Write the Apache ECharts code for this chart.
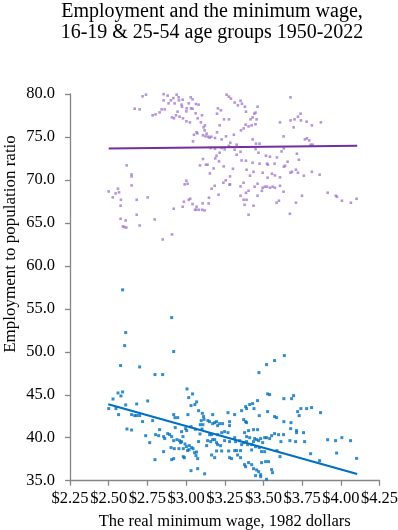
<!DOCTYPE html>
<html>
<head>
<meta charset="utf-8">
<script src="https://cdn.jsdelivr.net/npm/echarts@6/dist/echarts.min.js"></script>
<style>
html,body{margin:0;padding:0;background:#fff;}
#chart{width:398px;height:530px;}
</style>
</head>
<body>
<div id="chart"></div>
<script>
// x ticks (real minimum wage, 1982 dollars)
const xTicks = [2.25, 2.50, 2.75, 3.00, 3.25, 3.50, 3.75, 4.00, 4.25];
const yTicks = [35, 40, 45, 50, 55, 60, 65, 70, 75, 80];

// 25-54 age group: [real minimum wage, employment-to-population ratio]
const primeAgePoints = [
[2.719,79.73],[2.741,79.92],[2.855,79.98],[2.881,79.81],[2.939,79.92],[2.918,79.53],[2.952,79.61],[2.902,79.26],[2.855,79.26],[2.954,79.26],[2.978,79.34],[3.030,79.61],[3.042,79.38],[3.017,78.91],[2.971,78.76],[2.974,78.52],[2.887,78.91],[2.926,78.91],[2.668,78.29],[2.700,78.21],[2.862,78.21],[2.842,78.21],[3.004,78.33],[3.032,78.33],[3.042,78.29],[3.064,78.84],[3.081,78.76],[2.829,77.86],[2.803,77.63],[2.784,77.52],[2.945,77.94],[3.002,77.98],[3.062,77.75],[3.103,77.52],[2.935,77.52],[2.909,77.28],[2.922,77.17],[2.958,77.36],[2.980,77.17],[3.002,76.82],[3.025,76.70],[3.075,77.17],[3.096,76.70],[3.122,76.35],[3.113,76.12],[3.206,78.33],[3.225,78.10],[3.200,77.71],[3.262,79.92],[3.277,79.69],[3.245,77.05],[3.277,77.05],[3.217,76.35],[3.120,75.77],[3.068,75.54],[3.073,75.42],[3.133,75.38],[3.051,75.26],[3.109,75.19],[3.126,75.07],[3.144,75.03],[3.163,75.03],[3.152,74.91],[3.187,74.88],[3.230,74.72],[3.200,75.54],[3.258,75.07],[3.045,74.49],[3.277,73.98],[3.159,73.71],[3.187,73.63],[3.249,73.56],[3.230,73.71],[3.217,73.17],[3.197,72.82],[3.189,72.51],[3.213,72.16],[3.109,72.43],[3.129,71.77],[3.139,71.77],[3.090,71.69],[3.243,71.58],[3.178,71.34],[3.154,70.76],[2.616,71.69],[2.648,70.64],[2.648,70.41],[3.002,69.91],[3.010,69.56],[2.991,69.48],[3.185,69.32],[3.165,68.98],[3.241,69.67],[3.284,70.41],[3.256,69.95],[3.281,69.44],[3.210,68.28],[2.500,68.66],[2.526,67.97],[2.545,68.43],[2.560,68.98],[2.567,68.55],[2.579,67.69],[2.577,67.00],[2.681,67.69],[2.752,67.97],[2.648,69.36],[3.027,67.81],[3.017,67.69],[2.986,67.46],[2.978,66.88],[2.920,66.65],[3.042,67.19],[3.068,66.88],[3.058,66.53],[3.066,66.53],[3.083,66.53],[3.105,66.53],[3.120,66.45],[3.107,67.27],[3.146,67.27],[3.148,67.93],[2.681,65.95],[2.577,65.48],[2.610,65.29],[2.592,64.59],[2.601,64.51],[2.614,64.47],[2.700,64.70],[2.797,65.40],[2.909,63.66],[2.849,63.07],
[3.290,79.46],[3.314,79.00],[3.335,78.68],[3.352,79.22],[3.361,78.87],[3.380,78.52],[3.387,77.94],[3.462,78.52],[3.675,79.61],[3.449,77.83],[3.441,77.71],[3.430,77.28],[3.417,77.05],[3.456,77.05],[3.404,76.23],[3.385,76.43],[3.372,76.00],[3.355,75.77],[3.424,76.35],[3.449,76.47],[3.675,76.93],[3.701,77.05],[3.723,77.36],[3.740,77.71],[3.742,76.93],[3.779,76.78],[3.813,76.35],[3.871,76.70],[3.607,76.70],[3.695,76.12],[3.309,75.26],[3.430,74.72],[3.630,75.07],[3.768,74.72],[3.781,74.84],[3.796,74.60],[3.805,74.10],[3.818,74.10],[3.286,74.33],[3.327,74.10],[3.452,74.22],[3.475,74.22],[3.314,73.52],[3.352,73.28],[3.327,72.93],[3.449,73.59],[3.468,73.17],[3.516,72.82],[3.542,72.70],[3.587,72.62],[3.617,73.32],[3.632,73.67],[3.716,73.05],[3.729,72.35],[3.359,72.27],[3.387,72.24],[3.430,72.00],[3.475,71.89],[3.523,71.89],[3.529,71.77],[3.572,71.89],[3.632,71.54],[3.639,71.65],[3.656,72.12],[3.303,71.30],[3.391,71.19],[3.436,70.95],[3.495,70.84],[3.555,70.72],[3.574,70.53],[3.607,70.30],[3.413,70.49],[3.527,70.26],[3.675,70.84],[3.684,70.95],[3.710,71.19],[3.723,70.84],[3.761,70.49],[3.813,70.95],[3.863,70.61],[3.284,69.48],[3.372,69.67],[3.462,69.56],[3.443,69.21],[3.404,68.74],[3.387,68.51],[3.352,69.25],[3.495,69.09],[3.510,69.21],[3.523,69.21],[3.542,69.09],[3.559,69.21],[3.574,69.09],[3.607,69.32],[3.490,68.74],[3.630,68.63],[3.352,68.16],[3.372,67.69],[3.391,67.69],[3.462,68.16],[3.378,67.11],[3.436,67.00],[3.404,65.95],[3.585,67.35],[3.600,67.58],[3.671,66.06],[3.710,67.35],[3.749,68.16],[3.915,68.51],[3.968,68.16],[3.975,68.04],[4.007,67.58],[4.065,67.35],[4.102,67.81]
];

// 16-19 age group
const teenPoints = [
[2.590,57.21],[2.907,53.98],[2.610,52.24],[2.603,50.72],[2.920,50.03],[2.577,48.40],[2.700,48.24],[2.799,47.35],[2.849,47.35],
[3.635,49.56],[3.572,48.98],[3.520,48.51],[3.471,47.58],[3.811,43.51],[3.869,42.92],[3.915,39.77],[3.966,39.66],[4.007,40.01],[4.063,39.66],[3.973,38.22],[3.863,37.33],[4.102,37.60],[3.805,38.14],
[2.528,44.51],[2.560,45.21],[2.590,45.33],[2.579,44.86],[2.500,43.39],[2.547,43.39],[2.564,42.69],[2.610,43.82],[2.681,43.93],[2.752,44.28],[2.648,42.69],[2.668,42.58],[2.681,42.58],[2.700,42.58],[2.719,41.88],[2.784,41.99],[2.618,41.02],[2.648,40.90],[2.739,40.24],[2.765,39.43],[2.803,40.36],[2.823,40.24],[2.829,40.94],[2.855,40.13],[2.862,39.90],[2.881,40.48],[2.894,40.36],[2.907,40.13],[2.920,42.69],[2.928,42.34],[2.946,42.34],[2.920,39.66],[2.941,39.78],[2.958,39.66],[2.965,39.43],[2.930,41.18],[2.971,40.71],[2.980,40.13],[2.997,41.06],[3.004,40.83],[2.971,39.55],[2.993,39.27],[2.982,38.73],[2.954,38.73],[3.002,38.96],[3.021,39.08],[3.036,38.85],[3.045,38.73],[3.019,38.61],[3.010,38.50],[2.982,37.80],[2.989,37.68],[2.907,37.45],[2.920,37.57],[2.924,38.73],[2.903,38.85],[2.855,38.38],[2.799,37.45],[3.006,45.68],[3.042,45.10],[3.017,44.67],[3.032,43.74],[3.057,43.86],[3.068,44.17],[3.012,42.69],[3.105,42.84],[3.113,42.46],[3.098,41.99],[3.081,43.15],[3.116,42.14],[3.092,41.52],[3.032,41.29],[3.060,40.98],[3.090,40.44],[3.081,39.55],[3.068,38.34],[3.055,38.26],[3.064,37.92],[3.075,37.57],[3.032,36.17],[3.075,36.40],[3.103,41.02],[3.109,41.52],[3.120,35.80],
[3.141,41.99],[3.152,41.87],[3.172,42.69],[3.172,41.64],[3.197,41.87],[3.217,41.64],[3.185,41.76],[3.204,41.41],[3.236,41.64],[3.281,41.87],[3.281,41.41],[3.314,42.69],[3.271,42.92],[3.359,43.15],[3.385,43.62],[3.391,43.39],[3.411,43.86],[3.430,43.97],[3.462,44.32],[3.439,43.39],[3.527,45.10],[3.540,45.02],[3.632,44.55],[3.695,44.90],[3.682,44.55],[3.742,43.39],[3.779,43.39],[3.721,43.04],[3.731,42.57],[3.473,42.57],[3.527,43.04],[3.572,42.46],[3.585,42.34],[3.632,41.87],[3.678,41.76],[3.676,41.06],[3.714,40.83],[3.714,40.59],[3.759,40.59],[3.372,42.11],[3.385,41.87],[3.391,41.76],[3.404,40.83],[3.436,40.94],[3.462,40.94],[3.378,40.59],[3.391,40.13],[3.411,40.01],[3.346,39.66],[3.314,40.01],[3.320,39.55],[3.281,39.55],[3.249,39.66],[3.230,40.59],[3.249,40.71],[3.271,40.59],[3.204,40.36],[3.185,39.78],[3.165,40.36],[3.152,40.36],[3.139,39.66],[3.133,39.08],[3.159,39.55],[3.172,39.78],[3.197,39.43],[3.204,39.20],[3.223,39.08],[3.197,38.46],[3.230,38.46],[3.165,37.99],[3.185,37.68],[3.281,37.68],[3.294,37.57],[3.275,38.46],[3.314,38.50],[3.327,38.50],[3.333,37.99],[3.352,38.50],[3.352,37.68],[3.359,39.20],[3.372,39.43],[3.391,39.55],[3.398,39.20],[3.424,39.20],[3.436,39.55],[3.443,39.90],[3.456,39.78],[3.469,39.66],[3.482,39.90],[3.495,39.43],[3.508,40.01],[3.520,40.01],[3.540,39.90],[3.553,40.24],[3.572,40.48],[3.598,40.36],[3.613,39.55],[3.630,40.36],[3.671,39.66],[3.708,39.55],[3.766,39.55],[3.424,38.58],[3.449,38.96],[3.473,38.85],[3.488,38.38],[3.508,38.38],[3.587,38.50],[3.607,37.80],[3.378,36.87],[3.385,36.63],[3.404,37.10],[3.424,36.87],[3.436,36.40],[3.456,36.25],[3.469,36.05],[3.449,35.59],[3.482,35.70],[3.482,35.47],[3.520,35.16],[3.488,37.10],[3.514,37.22],[3.533,37.22],[3.553,36.29],[3.559,35.94]
];

// Linear trend line endpoints
const primeAgeTrend = [[2.500, 73.67], [4.106, 73.98]];
const teenTrend = [[2.497, 43.90], [4.106, 35.78]];

const titleLines = ['Employment and the minimum wage,', '16-19 & 25-54 age groups 1950-2022'];
const xName = 'The real minimum wage, 1982 dollars';
const yName = 'Employment to population ratio';

const FONT = 'Liberation Serif';
const labelRich = {t: {fontFamily: FONT, fontSize: 16.5, color: '#000'}};
const chart = echarts.init(document.getElementById('chart'), null, {renderer: 'canvas'});
chart.setOption({
  animation: false,
  backgroundColor: '#fff',
  textStyle: {fontFamily: FONT},
  title: {
    text: titleLines.join('\n'),
    left: 212, top: 1, padding: 0, textAlign: 'center',
    textStyle: {fontFamily: FONT, fontSize: 20, fontWeight: 'normal', color: '#000', lineHeight: 21}
  },
  grid: {left: 70, right: 18.5, top: 94, bottom: 49.3, containLabel: false, outerBoundsMode: 'none'},
  xAxis: {
    type: 'value', min: xTicks[0], max: xTicks[xTicks.length - 1], interval: 0.25,
    name: xName, nameLocation: 'middle', nameGap: 32,
    nameTextStyle: {fontFamily: FONT, fontSize: 16.5, color: '#000'},
    axisLine: {lineStyle: {color: '#868686', width: 1.3}},
    axisTick: {show: true, length: 5, lineStyle: {color: '#868686', width: 1.3}},
    axisLabel: {fontFamily: FONT, fontSize: 16.5, color: '#000', margin: 9, rich: labelRich,
      formatter: v => '{t|$' + v.toFixed(2) + '}'},
    splitLine: {show: false}
  },
  yAxis: {
    type: 'value', min: yTicks[0], max: yTicks[yTicks.length - 1], interval: 5,
    axisLine: {show: true, lineStyle: {color: '#868686', width: 1.3}},
    axisTick: {show: true, length: 5, lineStyle: {color: '#868686', width: 1.3}},
    axisLabel: {fontFamily: FONT, fontSize: 16.5, color: '#000', margin: 15, rich: labelRich,
      formatter: v => '{t|' + v.toFixed(1) + '}'},
    splitLine: {show: false}
  },
  graphic: [{
    type: 'text', x: 11, y: 244, rotation: Math.PI / 2,
    style: {text: yName, font: '17px "Liberation Serif"', fill: '#000', align: 'center', verticalAlign: 'middle'}
  }],
  series: [
    {type: 'scatter', name: '25-54', data: primeAgePoints, symbol: 'rect', symbolSize: 2.6,
      itemStyle: {color: '#A47BD1'}, z: 2},
    {type: 'scatter', name: '16-19', data: teenPoints, symbol: 'rect', symbolSize: 3,
      itemStyle: {color: '#0070C0'}, z: 2},
    {type: 'line', data: primeAgeTrend, symbol: 'none', lineStyle: {color: '#7030A0', width: 2}, z: 3},
    {type: 'line', data: teenTrend, symbol: 'none', lineStyle: {color: '#0070C0', width: 2.2}, z: 3}
  ]
});
</script>
</body>
</html>
